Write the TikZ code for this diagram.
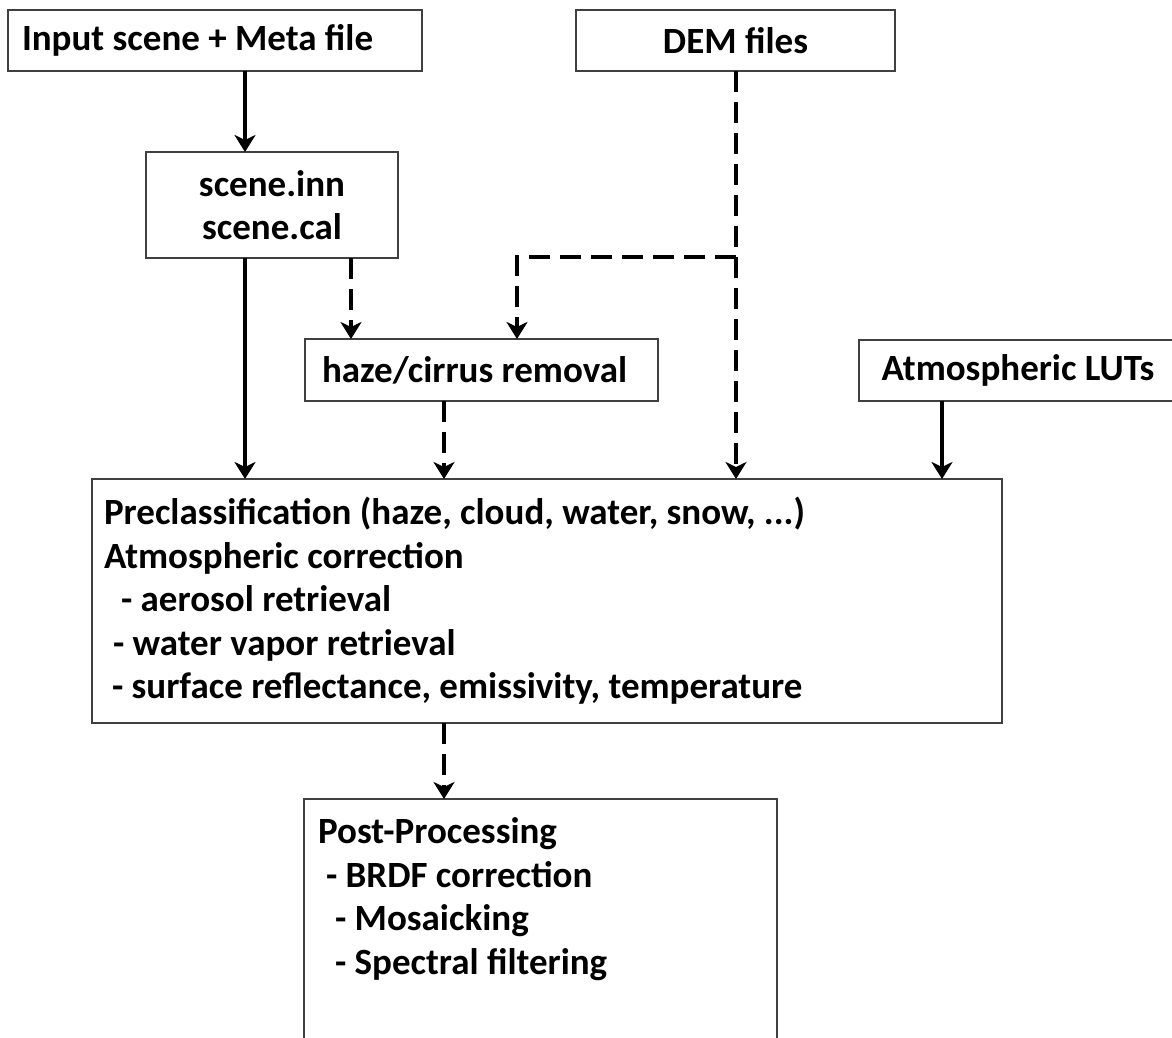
\documentclass[tikz,border=0pt]{standalone}
\usepackage{fontspec}
\setmainfont{Carlito}
\usetikzlibrary{arrows.meta}
\DeclareRobustCommand\boxfont{\bfseries\fontsize{37}{43.5}\selectfont}

\begin{document}
\begin{tikzpicture}[x=1pt,y=-1pt,
    box/.style={draw=black!75,line width=1.3pt,inner sep=0pt,outer sep=0pt,anchor=north west,font=\boxfont},
    solidarrow/.style={-{Stealth[length=17pt,width=21pt,inset=5pt]},line width=4pt},
    dasharrow/.style={solidarrow,dash pattern=on 21pt off 10pt}]
            \useasboundingbox (0,0) rectangle (1172,1037);

            \node[box,text width=386pt,inner xsep=14pt,minimum height=61pt,align=justify] (input) at (8,10) {Input scene + Meta file};
            \node[box,minimum width=319pt,minimum height=61pt] (dem) at (576,10) {DEM files};
            \node[box,minimum width=252pt,minimum height=106pt,align=center] (scene) at (146,152) {scene.inn\\scene.cal};
            \node[box,text width=319pt,inner xsep=17pt,minimum height=62pt,align=justify] (haze) at (305,339) {haze/cirrus removal};
            \node[box,minimum width=318pt,minimum height=61pt] (luts) at (859,340) {Atmospheric LUTs};
            \node[box,text width=886pt,inner xsep=12pt,minimum height=244pt,align=justify] (pre) at (92,479) {Preclassification (haze, cloud, water, snow, ...)\\Atmospheric correction\\\hspace*{17pt}- aerosol retrieval\\\hspace*{9pt}- water vapor retrieval\\\hspace*{8pt}- surface reflectance, emissivity, temperature};
            \node[box,text width=445pt,inner xsep=14pt,inner ysep=19pt,text depth=200pt,align=justify] (post) at (304,799) {Post-Processing\\\hspace*{8pt}- BRDF correction\\\hspace*{17pt}- Mosaicking\\\hspace*{17pt}- Spectral filtering};

            \coordinate (colA) at (245,0);
            \coordinate (colB) at (351,0);
            \coordinate (colC) at (444,0);
            \coordinate (bend) at (517,257);
            \coordinate (split) at (736,257);
            \coordinate (colF) at (942,0);

            \draw[solidarrow] (input.south -| colA) -- (scene.north -| colA);
            \draw[solidarrow] (scene.south -| colA) -- (pre.north -| colA);
            \draw[dasharrow] (scene.south -| colB) -- (haze.north -| colB);
            \draw[dasharrow] (haze.south -| colC) -- (pre.north -| colC);
            \draw[dasharrow] (dem.south -| split) -- (pre.north -| split);
            \draw[dasharrow] (split) -- (bend) -- (haze.north -| bend);
            \draw[solidarrow] (luts.south -| colF) -- (pre.north -| colF);
            \draw[dasharrow] (pre.south -| colC) -- (post.north -| colC);
        \end{tikzpicture}
\end{document}
